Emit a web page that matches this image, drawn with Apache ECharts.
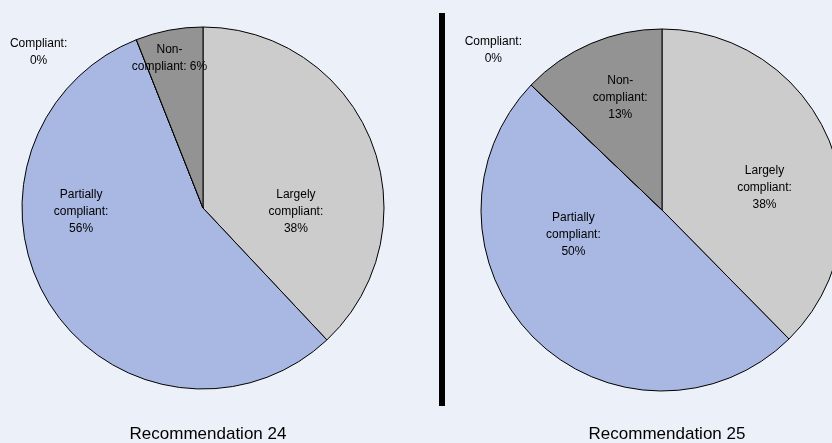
<!DOCTYPE html>
<html>
<head>
<meta charset="utf-8">
<script src="https://cdn.jsdelivr.net/npm/echarts@6/dist/echarts.min.js"></script>
<style>
  html, body { margin: 0; padding: 0; background: #ECF0F8; }
  #chart { width: 832px; height: 443px; }
</style>
</head>
<body>
<div id="chart"></div>
<script>
// Compliance ratings (percent of assessed jurisdictions)
const categories = ['Largely compliant', 'Partially compliant', 'Compliant', 'Non-compliant'];
const rec24Values = [38, 56, 0, 6];
const rec25Values = [38, 50, 0, 13];
const chartTitles = ['Recommendation 24', 'Recommendation 25'];

// Slice label text; the value is appended after the separator
const labelText24 = [['Largely\ncompliant:', '\n'], ['Partially\ncompliant:', '\n'], ['Compliant:', '\n'], ['Non-\ncompliant:', ' ']];
const labelText25 = [['Largely\ncompliant:', '\n'], ['Partially\ncompliant:', '\n'], ['Compliant:', '\n'], ['Non-\ncompliant:', '\n']];

const sliceColors = ['#CCCCCC', '#A8B8E3', '#FFFFFF', '#939393'];

// Label nudges away from the default mid-slice position
const labelOffsets24 = [[6, 38], [-43, -46], [-130, -69], [-16, -58]];
const labelOffsets25 = [[16, 13], [-23, -42], [-101, -95], [-5, -26]];

function buildData(values, texts, offsets) {
  return values.map((v, i) => ({
    name: categories[i],
    value: v,
    itemStyle: { color: sliceColors[i] },
    label: {
      offset: offsets[i],
      formatter: texts[i][0] + texts[i][1] + v + '%'
    }
  }));
}

function pieSeries(values, texts, offsets, center) {
  return {
    type: 'pie',
    center: center,
    radius: 181,
    startAngle: 90,
    clockwise: true,
    animation: false,
    silent: true,
    avoidLabelOverlap: false,
    itemStyle: { borderColor: '#000000', borderWidth: 1 },
    label: {
      show: true,
      position: 'inside',
      color: '#000000',
      fontFamily: 'Liberation Sans, Arial, sans-serif',
      fontSize: 12,
      lineHeight: 17,
      align: 'center'
    },
    labelLine: { show: false },
    emphasis: { disabled: true },
    data: buildData(values, texts, offsets)
  };
}

const titleStyle = { fontFamily: 'Liberation Sans, Arial, sans-serif', fontSize: 17, fontWeight: 'normal', color: '#000' };

const chart = echarts.init(document.getElementById('chart'), null, { renderer: 'canvas' });
chart.setOption({
  backgroundColor: '#ECF0F8',
  title: [
    { text: chartTitles[0], left: 203, top: 421, textAlign: 'center', textStyle: titleStyle },
    { text: chartTitles[1], left: 662, top: 421, textAlign: 'center', textStyle: titleStyle }
  ],
  graphic: [
    { type: 'rect', shape: { x: 439, y: 13, width: 6, height: 393 }, style: { fill: '#000000' }, silent: true }
  ],
  series: [
    pieSeries(rec24Values, labelText24, labelOffsets24, [203, 208]),
    pieSeries(rec25Values, labelText25, labelOffsets25, [662, 210])
  ]
});
</script>
</body>
</html>
